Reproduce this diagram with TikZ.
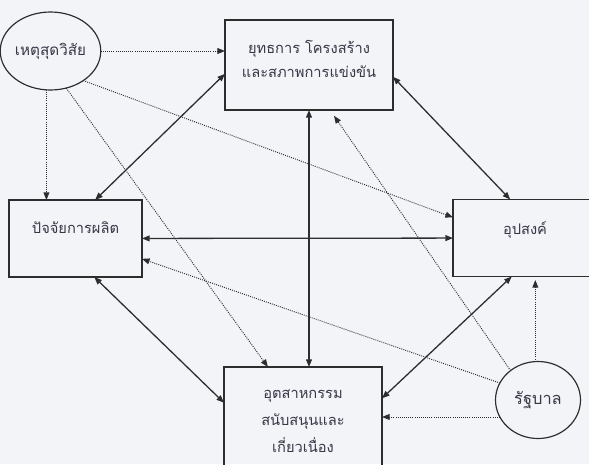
\documentclass[tikz,border=0pt]{standalone}
\usepackage{fontspec}
\newfontfamily\thaifont[Script=Thai]{Loma}
\usetikzlibrary{arrows.meta,shapes.geometric}
\definecolor{bgcolor}{RGB}{242,244,248}
\definecolor{linecolor}{RGB}{45,45,45}
\definecolor{textcolor}{RGB}{55,55,70}

\tikzset{
  box/.style={draw=linecolor, line width=1pt, rectangle, inner sep=0pt, outer sep=0pt},
  oval/.style={draw=linecolor, line width=1pt, ellipse, inner sep=0pt, outer sep=0pt,
               font=\thaifont\fontsize{13}{15}\selectfont, text=textcolor},
  boxtext/.style={anchor=north, align=center, text=textcolor,
                  font=\thaifont\fontsize{12.5}{20.5}\selectfont},
  link/.style={<->, linecolor, line width=1.1pt},
  hint/.style={->, linecolor, densely dotted, line width=0.8pt}
}

\begin{document}
\begin{tikzpicture}[x=0.03cm, y=-0.03cm, >={Triangle[length=6.5pt,width=5pt]}]
    % --- frame and background ---
    \clip (0,0) rectangle (589,464);
    \fill[bgcolor] (0,0) rectangle (589,464);
    % --- the four boxes ---
    \node[box, minimum width=5.04cm, minimum height=2.7cm,
          label={[boxtext, yshift=-13.5pt]north:{ยุทธการ โครงสร้าง\\และสภาพการแข่งขัน}}]
      (strat) at (309,65) {};
    \node[box, minimum width=3.99cm, minimum height=2.31cm,
          label={[boxtext, yshift=-15pt]north:ปัจจัยการผลิต}]
      (factor) at (75.5,238.5) {};
    \node[box, minimum width=4.32cm, minimum height=2.31cm,
          label={[boxtext, yshift=-15pt]north:อุปสงค์}]
      (demand) at (525,238) {};
    \node[box, minimum width=4.74cm, minimum height=3.24cm,
          label={[boxtext, yshift=-16pt, font=\thaifont\fontsize{12.5}{23}\selectfont]north:{อุตสาหกรรม\\สนับสนุนและ\\เกี่ยวเนื่อง}}]
      (support) at (303,421) {};
    % --- chance and government ---
    \node[oval, minimum width=2.55cm, minimum height=2.34cm] (chance) at (50.5,51) {เหตุสุดวิสัย};
    \node[oval, minimum width=2.55cm, minimum height=2.31cm,
          font=\thaifont\fontsize{14}{16}\selectfont] (gov) at (538,400) {รัฐบาล};
    % --- the diamond: two-way links ---
    \draw[link] (strat.186.8) -- (factor.63.1);
    \draw[link] (strat.352) -- (demand.111.5);
    \draw[link] (factor) -- (demand);
    \draw[link] (strat.south) -- (strat.south |- support.north);
    \draw[link] (factor.296.9) -- (support.167);
    \draw[link] (demand.251.6) -- (support.16.2);
    % --- chance acts on every box ---
    \draw[hint] (chance) -- (chance -| strat.west);
    \draw[hint] (chance.264) -- (chance.264 |- factor.north);
    \draw[hint] (chance.318) -- (demand.164);
    \draw[hint] (chance.293.6) -- (support.123);
    % --- government acts on every box ---
    \draw[hint, shorten >=6pt] (gov.133) -- (strat.295);
    \draw[hint] (gov.156) -- (factor.343.7);
    \draw[hint] (gov.204) -- (gov.204 -| support.east);
    \draw[hint, shorten >=3pt] (gov.94) -- (gov.94 |- demand.south);
  \end{tikzpicture}
\end{document}
